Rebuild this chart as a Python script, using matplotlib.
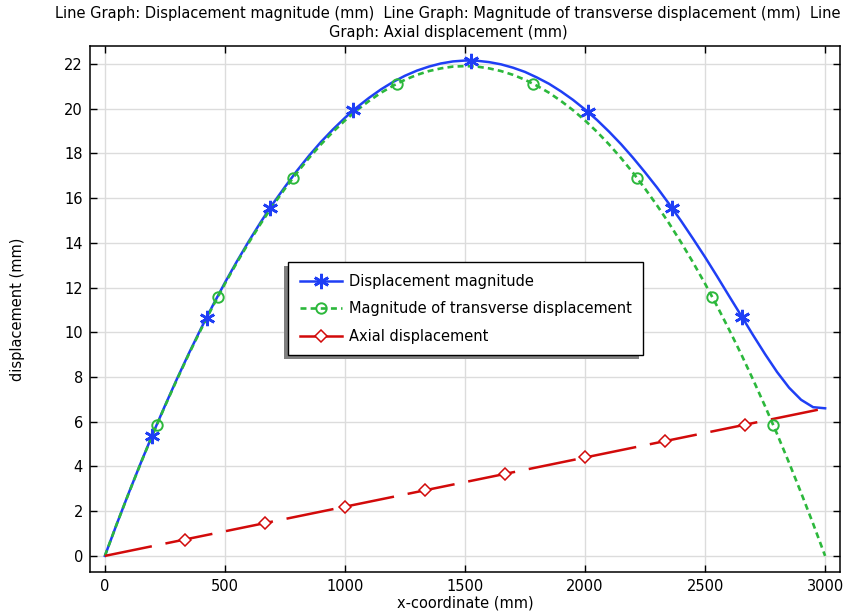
import matplotlib
matplotlib.use("Agg")
import matplotlib.pyplot as plt
from matplotlib.patches import Rectangle

# values (x in mm, displacement in mm), 50 mm apart
xs = list(range(0, 3001, 50))
trans_y = [0, 1.44, 2.82, 4.16, 5.45, 6.69, 7.88, 9.03, 10.12, 11.17, 12.17,
           13.12, 14.02, 14.87, 15.67, 16.42, 17.13, 17.79, 18.40, 18.96, 19.47,
           19.93, 20.34, 20.71, 21.02, 21.29, 21.51, 21.68, 21.80, 21.88, 21.90,
           21.88, 21.80, 21.68, 21.51, 21.29, 21.02, 20.71, 20.34, 19.93, 19.47,
           18.96, 18.40, 17.79, 17.13, 16.42, 15.67, 14.87, 14.02, 13.12, 12.17,
           11.17, 10.12, 9.03, 7.88, 6.69, 5.45, 4.16, 2.82, 1.44, 0]
mag_y = [0, 1.44, 2.83, 4.17, 5.47, 6.71, 7.91, 9.06, 10.16, 11.21, 12.22,
         13.17, 14.08, 14.94, 15.75, 16.50, 17.22, 17.89, 18.51, 19.07, 19.59,
         20.06, 20.48, 20.86, 21.19, 21.47, 21.70, 21.88, 22.02, 22.11, 22.15,
         22.14, 22.08, 21.98, 21.83, 21.64, 21.39, 21.11, 20.77, 20.39, 19.96,
         19.49, 18.97, 18.41, 17.80, 17.15, 16.47, 15.74, 14.98, 14.18, 13.36,
         12.50, 11.62, 10.75, 9.87, 9.02, 8.22, 7.52, 6.98, 6.65, 6.60]

axial_x = [0, 500, 1000, 1500, 2000, 2500, 3000]
axial_y = [0, 1.10, 2.20, 3.30, 4.40, 5.50, 6.60]

# marker positions
mag_mx = [197, 424, 687, 1034, 1525, 2011, 2362, 2653]
mag_my = [5.34, 10.64, 15.56, 19.92, 22.15, 19.87, 15.56, 10.70]
trans_mx = [215, 471, 784, 1218, 1782, 2218, 2530, 2782]
trans_my = [5.86, 11.58, 16.90, 21.10, 21.10, 16.92, 11.57, 5.86]
axial_mx = [333, 667, 1000, 1333, 1667, 2000, 2333, 2667]
axial_my = [0.73, 1.47, 2.20, 2.93, 3.67, 4.40, 5.13, 5.87]

labels = ["Displacement magnitude", "Magnitude of transverse displacement",
          "Axial displacement"]
title = ("Line Graph: Displacement magnitude (mm)  Line Graph: Magnitude of transverse displacement (mm)  Line\n"
         "Graph: Axial displacement (mm)")

blue, green, red = "#1f3ff5", "#2cb83c", "#d20a0a"
fs = 10.5

plt.rcParams["font.family"] = "DejaVu Sans"
plt.rcParams["font.size"] = fs
plt.rcParams["lines.scale_dashes"] = False

fig = plt.figure(figsize=(8.46, 6.14), dpi=100)
ax = fig.add_axes([90 / 846, 42 / 614, 750 / 846, 526 / 614])

star = (6, 2, 0)
ax.plot(xs, mag_y, "-", color=blue, lw=1.8)
ax.plot(xs, trans_y, color=green, lw=1.9, dashes=(4.3, 3.0))
ax.plot(axial_x, axial_y, color=red, lw=1.8, dashes=(34.5, 10.0))
ax.plot(mag_mx, mag_my, ls="none", marker=star, ms=11, mew=1.9, color=blue)
ax.plot(trans_mx, trans_my, ls="none", marker="o", ms=7.5, mew=1.4,
        mfc="none", mec=green)
ax.plot(axial_mx, axial_my, ls="none", marker="D", ms=5.8, mew=1.1,
        mfc="white", mec=red)

# legend handles: line + marker together
h1 = plt.Line2D([], [], color=blue, lw=1.8, marker=star, ms=11, mew=1.9)
h2 = plt.Line2D([], [], color=green, lw=1.9, dashes=(4.3, 3.0), marker="o",
                ms=7.5, mew=1.4, mfc="none", mec=green)
h3 = plt.Line2D([], [], color=red, lw=1.8, marker="D", ms=5.8, mew=1.1,
                mfc="white", mec=red)

ax.set_xlim(-62, 3062)
ax.set_ylim(-0.72, 22.8)
ax.set_xticks(range(0, 3001, 500))
ax.set_yticks(range(0, 23, 2))
ax.grid(True, color="#dcdcdc", lw=1.0)
ax.set_axisbelow(True)
ax.tick_params(direction="in", length=5, width=1.0, top=True, right=True,
               labelsize=fs, pad=5, color="black")
for s in ax.spines.values():
    s.set_linewidth(1.1)

ax.set_xlabel("x-coordinate (mm)", fontsize=fs, labelpad=1)
ax.set_ylabel("displacement (mm)", fontsize=fs)
ax.yaxis.set_label_coords(-0.087, 0.5)
fig.text(448 / 846, 1 - 6 / 614, title, ha="center", va="top", fontsize=fs,
         linespacing=1.3)

leg = ax.legend([h1, h2, h3], labels, loc="upper left",
                bbox_to_anchor=(0.264, 0.589), borderaxespad=0, fontsize=fs,
                handlelength=2.88, handletextpad=0.48, labelspacing=0.85,
                borderpad=0.8, numpoints=1, fancybox=False, framealpha=1,
                edgecolor="black")
leg.get_frame().set_linewidth(1.0)
leg.set_zorder(6)

# shadow offset to the lower left
fig.canvas.draw()
bb = leg.get_frame().get_window_extent().transformed(ax.transAxes.inverted())
dx, dy = 4 / 750, 4 / 526
ax.add_patch(Rectangle((bb.x0 - dx, bb.y0 - dy), bb.width, bb.height,
                       transform=ax.transAxes, facecolor="#808080",
                       edgecolor="none", zorder=5.5))

fig.savefig("out.png", dpi=100)
